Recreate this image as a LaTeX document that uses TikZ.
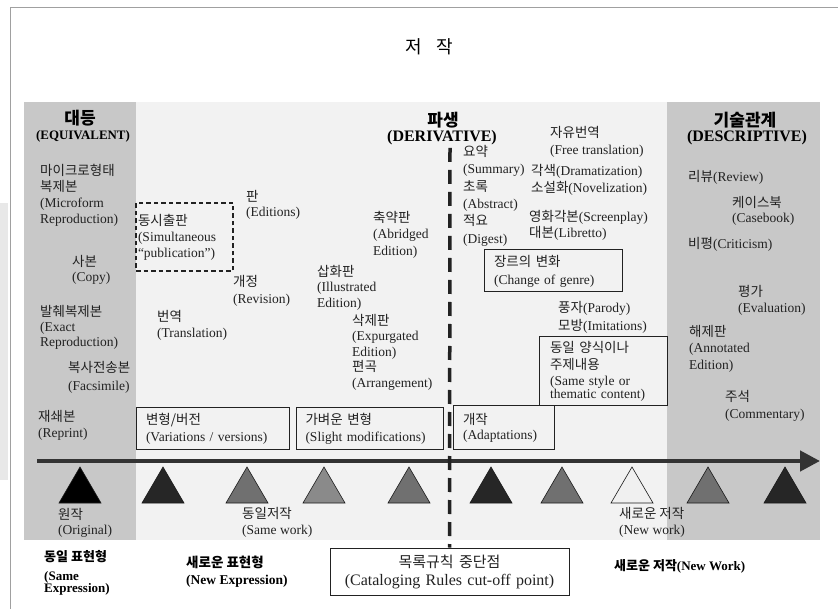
\documentclass[tikz,border=0pt]{standalone}
\usepackage{fontspec}
\setmainfont{Liberation Serif}
\newfontfamily\kr{Noto Sans CJK KR}
\usetikzlibrary{arrows.meta}
\newcommand{\K}[1]{{\kr #1}}
\definecolor{panelc}{HTML}{F2F2F2}
\definecolor{bandc}{HTML}{C8C8C8}
\definecolor{framec}{HTML}{A0A0A0}
\definecolor{stripc}{HTML}{E8E8E8}
\definecolor{inkc}{HTML}{222222}
\definecolor{arrowc}{HTML}{333333}
\definecolor{triA}{HTML}{000000}
\definecolor{triB}{HTML}{262626}
\definecolor{triC}{HTML}{707070}
\definecolor{triD}{HTML}{8A8A8A}
\definecolor{triE}{HTML}{F0F0F0}
\definecolor{triedge}{HTML}{1A1A1A}
\tikzset{
  lbl/.style={anchor=north west, inner sep=0pt, align=left, text=inkc, font=\fontsize{13.5}{16}\selectfont},
  hdk/.style={inner sep=0pt, text=black, font=\fontsize{17}{20}\selectfont\bfseries\kr},
  hde/.style={inner sep=0pt, text=black, font=\fontsize{16}{18}\selectfont\bfseries},
  boxed/.style={draw=inkc, line width=1pt, inner ysep=0pt, inner xsep=10pt, align=left, text=inkc, font=\fontsize{13.5}{17}\selectfont},
  bot/.style={anchor=north west, inner sep=0pt, align=left, text=black, font=\fontsize{13}{12.5}\selectfont\bfseries},
  tri/.style={fill=#1, draw=triedge, line width=0.6pt}
}
\begin{document}
\begin{tikzpicture}[x=1pt,y=-1pt]
\useasboundingbox (0,0) rectangle (838,609);
\fill[white] (0,0) rectangle (838,609);
\fill[stripc] (0,203) rectangle (8,480);
\draw[framec, line width=1pt] (10,609) -- (10,8) -- (838,8);
\fill[panelc] (24,102) rectangle (820,540);
\fill[bandc] (24,102) rectangle (136,540);
\fill[bandc] (667,102) rectangle (820,540);

% title
\node[font=\fontsize{18}{20}\selectfont\kr, text=black] (title) at (429,47) {저 \hspace{10pt}작};

% headings
\node[hdk] (eqK) at (80,118) {대등};
\node[hde, font=\fontsize{12.9}{14}\selectfont\bfseries] (eqE) at (83,136) {(EQUIVALENT)};
\node[hdk] (derK) at (443,120) {파생};
\node[hde] (derE) at (442,138) {(DERIVATIVE)};
\node[hdk] (desK) at (745,120) {기술관계};
\node[hde] (desE) at (747,138) {(DESCRIPTIVE)};

% bottom cut-off box and dashed line
\node[boxed, align=center, text width=219pt, minimum height=47pt, font=\fontsize{16}{18}\selectfont] (cutbox) at (449.5,571.5) {{\kr\fontsize{15}{18}\selectfont 목록규칙 중단점}\\(Cataloging Rules cut-off point)};

% arrow
\coordinate (axS) at (37,461);
\coordinate (axE) at (820,461);
\draw[arrowc, line width=4.5pt, -{Triangle[length=20pt,width=20pt]}] (axS) -- (axE);

\coordinate (cutTop) at (450,148);
\draw[inkc, line width=3.5pt, dash pattern=on 14pt off 8pt] (cutTop) -- (cutbox.north);

% triangles
\foreach \x/\c in {80/triA, 163/triB, 247/triC, 324/triD, 409/triC, 491/triB, 562/triC, 632/triE, 708/triC, 785/triB}{
  \draw[tri=\c] (\x-21,503) -- (\x,467) -- (\x+21,503) -- cycle;
}

% left band labels
\node[lbl] (microform) at (40,164) {\K{마이크로형태}\\\K{복제본}\\(Microform\\Reproduction)};
\node[lbl, font=\fontsize{13.5}{15}\selectfont] (copy) at (72,255) {\K{사본}\\(Copy)};
\node[lbl, font=\fontsize{13.5}{15}\selectfont] (exact) at (40,305) {\K{발췌복제본}\\(Exact\\Reproduction)};
\node[lbl] (facs) at (68,361) {\K{복사전송본}\\[2.5pt](Facsimile)};
\node[lbl] (reprint) at (38,410) {\K{재쇄본}\\(Reprint)};

% middle labels
\node[lbl, font=\fontsize{13.5}{15}\selectfont] (editions) at (246,190) {\K{판}\\(Editions)};
\node[lbl, font=\fontsize{13.5}{17}\selectfont] (revision) at (233,275) {\K{개정}\\(Revision)};
\node[lbl] (translation) at (157,310) {\K{번역}\\(Translation)};
\node[lbl, font=\fontsize{13.5}{16.5}\selectfont] (abridged) at (373,211) {\K{축약판}\\(Abridged\\Edition)};
\node[lbl, font=\fontsize{13.5}{15.5}\selectfont] (illustrated) at (317,265) {\K{삽화판}\\(Illustrated\\Edition)};
\node[lbl, font=\fontsize{13.5}{15.5}\selectfont] (expurgated) at (352,314) {\K{삭제판}\\(Expurgated\\Edition)\\\K{편곡}\\(Arrangement)};

\node[lbl, font=\fontsize{13.5}{17.4}\selectfont] (summary) at (463,145) {\K{요약}\\(Summary)\\\K{초록}\\(Abstract)\\\K{적요}\\(Digest)};
\node[lbl, font=\fontsize{13.5}{17}\selectfont] (free) at (550,126) {\K{자유번역}\\(Free translation)};
\node[lbl, font=\fontsize{13.5}{17}\selectfont] (drama) at (531,164) {\K{각색}(Dramatization)\\\K{소설화}(Novelization)};
\node[lbl] (screen) at (529,210) {\K{영화각본}(Screenplay)\\\K{대본}(Libretto)};
\node[lbl, font=\fontsize{13.5}{18.4}\selectfont] (parody) at (558,301) {\K{풍자}(Parody)\\\K{모방}(Imitations)};

% right band labels
\node[lbl] (review) at (688,170) {\K{리뷰}(Review)};
\node[lbl, font=\fontsize{13.5}{15}\selectfont] (casebook) at (732,196) {\K{케이스북}\\(Casebook)};
\node[lbl] (criticism) at (688,237) {\K{비평}(Criticism)};
\node[lbl] (evaluation) at (738,285) {\K{평가}\\(Evaluation)};
\node[lbl, font=\fontsize{13.5}{16.5}\selectfont] (annotated) at (689,325) {\K{해제판}\\(Annotated\\Edition)};
\node[lbl, font=\fontsize{13.5}{17}\selectfont] (commentary) at (725,390) {\K{주석}\\(Commentary)};

% boxes
\node[boxed, dash pattern=on 4.5pt off 3pt, line width=1.2pt, inner xsep=2pt, text width=93pt, minimum height=68pt, font=\fontsize{13.5}{16}\selectfont] (simul) at (184.5,237) {\K{동시출판}\\(Simultaneous\\“publication”)};
\node[boxed, text width=133pt, minimum height=41pt] (variations) at (212.5,428.5) {\K{변형/버전}\\(Variations / versions)};
\node[boxed, inner xsep=9.5pt, text width=128pt, minimum height=41pt] (slight) at (369.5,428.5) {\K{가벼운 변형}\\(Slight modifications)};
\node[boxed, text width=81pt, minimum height=43pt, font=\fontsize{13.5}{15}\selectfont] (adapt) at (503.5,427.5) {\K{개작}\\(Adaptations)};
\node[boxed, text width=118pt, minimum height=42pt, font=\fontsize{13.5}{18}\selectfont] (genre) at (553,271) {\K{장르의 변화}\\(Change of genre)};
\node[boxed, inner xsep=11pt, text width=106pt, minimum height=69pt, font=\fontsize{13.5}{16.5}\selectfont] (samestyle) at (603,371.5) {\K{동일 양식이나}\\\K{주제내용}\\(Same style or\\[-4pt]thematic content)};

% labels below the triangles
\node[lbl, font=\fontsize{13.5}{15}\selectfont] (original) at (58,508) {\K{원작}\\(Original)};
\node[lbl] (samework) at (242,507) {\K{동일저작}\\(Same work)};
\node[lbl] (newwork) at (619,507) {\K{새로운 저작}\\(New work)};

% bottom legend
\node[bot] (sameexp) at (44,550) {\K{동일 표현형}\\[6.5pt](Same\\Expression)};
\node[bot, font=\fontsize{13.5}{12.5}\selectfont\bfseries] (newexp) at (186,556) {\K{새로운 표현형}\\[4.5pt](New Expression)};
\node[bot, anchor=west] (newworkB) at (614,566) {\K{새로운 저작}(New Work)};
\end{tikzpicture}
\end{document}
